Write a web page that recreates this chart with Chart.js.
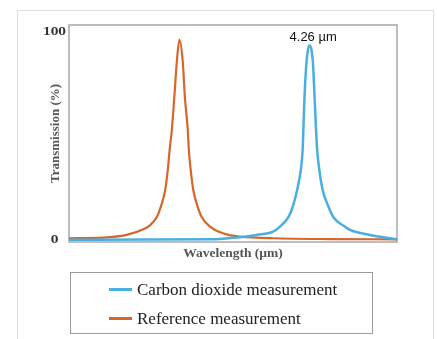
<!DOCTYPE html>
<html>
<head>
    <title>Transmission</title>
    <script src="https://cdn.jsdelivr.net/npm/chart.js"></script>
    <style>
        body { margin: 0; background: white; }
        .frame {
            position: absolute;
            left: 17px;
            top: 10px;
            width: 415px;
            height: 340px;
            border: 1px solid #dcdcdc;
        }
        .container {
            position: absolute;
            left: 0;
            top: 0;
            width: 437px;
            height: 339px;
        }
    </style>
</head>
<body>
    <div class="frame"></div>
    <div class="container">
        <canvas id="chart"></canvas>
    </div>

    <script>
        // wavelength in µm, transmission in %
        const co2Wavelengths = [3.600, 3.822, 3.987, 4.069, 4.115, 4.160, 4.179, 4.202, 4.214, 4.226, 4.236, 4.241, 4.243, 4.246, 4.252, 4.259, 4.269, 4.274, 4.278, 4.281, 4.287, 4.296, 4.312, 4.325, 4.357, 4.371, 4.426, 4.481, 4.500];
        const co2Values = [0.1, 0.2, 0.3, 1.3, 2.4, 4.0, 6.4, 11, 16, 24, 33.5, 43, 52.6, 68, 86, 93.5, 86, 68, 52.6, 43, 33.5, 24, 16, 11, 6.4, 4.8, 2.4, 0.8, 0.3];

        const refWavelengths = [3.600, 3.694, 3.758, 3.804, 3.822, 3.841, 3.852, 3.864, 3.871, 3.876, 3.882, 3.889, 3.896, 3.903, 3.912, 3.918, 3.926, 3.929, 3.934, 3.941, 3.953, 3.964, 3.987, 4.010, 4.037, 4.069, 4.160, 4.316, 4.500];
        const refValues = [0.8, 1.1, 2.4, 5.1, 7, 11, 16, 24, 33.5, 43, 52.6, 68.6, 86, 96.2, 86, 68.6, 52.6, 43, 33.5, 24, 16, 11, 6.4, 4, 2.4, 1.6, 0.8, 0.4, 0.3];

        const seriesLabels = ['Carbon dioxide measurement', 'Reference measurement'];
        const seriesColors = ['#4aaee0', '#d8652c'];
        const yTicks = [0, 100];
        const peakLabel = '4.26 µm';

        const toPoints = (xs, ys) => xs.map((x, i) => ({ x: x, y: ys[i] }));

        // grey box round the plot area
        const plotBorder = {
            id: 'plotBorder',
            beforeDatasetsDraw(chart) {
                const { ctx, chartArea: a } = chart;
                ctx.save();
                ctx.strokeStyle = '#a8a8a8';
                ctx.lineWidth = 1.5;
                ctx.strokeRect(a.left, a.top, a.right - a.left, a.bottom - a.top);
                ctx.restore();
            }
        };

        // text over the CO2 peak
        const peakText = {
            id: 'peakText',
            afterDatasetsDraw(chart) {
                const { ctx, scales } = chart;
                const i = co2Values.indexOf(Math.max(...co2Values));
                const px = scales.x.getPixelForValue(co2Wavelengths[i]);
                const py = scales.y.getPixelForValue(co2Values[i]);
                ctx.save();
                ctx.font = '13px "Liberation Sans", Arial, sans-serif';
                ctx.fillStyle = '#111';
                ctx.textAlign = 'center';
                ctx.textBaseline = 'middle';
                ctx.fillText(peakLabel, px + 4, py - 8);
                ctx.restore();
            }
        };

        // boxed legend under the chart
        const boxLegend = {
            id: 'boxLegend',
            afterDraw(chart) {
                const ctx = chart.ctx;
                ctx.save();
                ctx.strokeStyle = '#9a9a9a';
                ctx.lineWidth = 1;
                ctx.strokeRect(70.5, 272.5, 302, 61);
                ctx.font = '17px "Liberation Serif", "Times New Roman", serif';
                ctx.textBaseline = 'middle';
                chart.data.datasets.forEach((ds, i) => {
                    const y = 289.5 + i * 29;
                    ctx.strokeStyle = ds.borderColor;
                    ctx.lineWidth = 3;
                    ctx.beginPath();
                    ctx.moveTo(109, y);
                    ctx.lineTo(132, y);
                    ctx.stroke();
                    ctx.fillStyle = '#222';
                    ctx.fillText(ds.label, 137, y + 1);
                });
                ctx.restore();
            }
        };

        const ctx = document.getElementById('chart').getContext('2d');
        new Chart(ctx, {
            type: 'line',
            data: {
                datasets: [{
                    label: seriesLabels[0],
                    data: toPoints(co2Wavelengths, co2Values),
                    borderColor: seriesColors[0],
                    borderWidth: 2.5,
                    pointRadius: 0,
                    cubicInterpolationMode: 'monotone'
                }, {
                    label: seriesLabels[1],
                    data: toPoints(refWavelengths, refValues),
                    borderColor: seriesColors[1],
                    borderWidth: 2.2,
                    pointRadius: 0,
                    cubicInterpolationMode: 'monotone'
                }]
            },
            options: {
                responsive: true,
                maintainAspectRatio: false,
                animation: false,
                layout: { padding: { left: 0, top: 25, right: 40, bottom: 73 } },
                plugins: {
                    legend: { display: false },
                    tooltip: { enabled: false }
                },
                scales: {
                    x: {
                        type: 'linear',
                        min: 3.6,
                        max: 4.5,
                        grid: { display: false, drawTicks: false },
                        border: { display: false },
                        ticks: { display: false },
                        title: {
                            display: true,
                            text: 'Wavelength (µm)',
                            color: '#555',
                            font: { family: '"Liberation Serif", serif', size: 13.5, weight: 'bold' },
                            padding: { top: 0, bottom: 4 }
                        },
                        afterFit(scale) { scale.height = 24; }
                    },
                    y: {
                        min: -1,
                        max: 103.3,
                        grid: { display: false, drawTicks: false },
                        border: { display: false },
                        afterBuildTicks(scale) { scale.ticks = yTicks.map(v => ({ value: v })); },
                        ticks: {
                            padding: 3,
                            crossAlign: 'center',
                            color: '#333',
                            font: { family: '"DejaVu Serif", serif', size: 11, weight: 'bold' },
                            callback: v => String(v)
                        },
                        title: {
                            display: true,
                            text: 'Transmission (%)',
                            color: '#555',
                            font: { family: '"Liberation Serif", serif', size: 13, weight: 'bold' },
                            padding: { top: 48, bottom: 0 }
                        },
                        afterFit(scale) { scale.width = 69; }
                    }
                }
            },
            plugins: [plotBorder, peakText, boxLegend]
        });
    </script>
</body>
</html>
